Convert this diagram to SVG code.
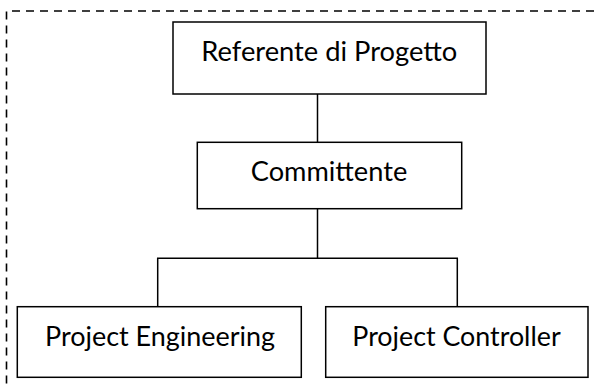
<svg xmlns="http://www.w3.org/2000/svg" width="594" height="385" viewBox="0 0 594 385">
  <style>
    .box { fill: #ffffff; stroke: #000000; stroke-width: 1.5; }
    .label { font-family: Lato, "Open Sans", "Liberation Sans", sans-serif; font-size: 26px; fill: #000000; text-anchor: middle; }
    .link { fill: none; stroke: #000000; stroke-width: 1.5; }
    .frame { fill: none; stroke: #000000; stroke-width: 1.6; stroke-dasharray: 8 6; }
  </style>
  <rect width="594" height="385" fill="#ffffff"/>

  <!-- dashed outer frame (top and left edges) -->
  <path class="frame" d="M594,11 H6.5 V385"/>

  <g id="connectors">
    <line class="link" x1="317.5" y1="94" x2="317.5" y2="142.3"/>
    <line class="link" x1="317.5" y1="208.7" x2="317.5" y2="258.3"/>
    <path class="link" d="M157.7,306.7 V258.3 H457.3 V306.7"/>
  </g>

  <g id="referente">
    <rect class="box" x="173" y="22" width="313" height="72"/>
    <text class="label" x="329.3" y="61" textLength="256" lengthAdjust="spacingAndGlyphs">Referente di Progetto</text>
  </g>

  <g id="committente">
    <rect class="box" x="197.3" y="142.3" width="264.4" height="66.4"/>
    <text class="label" x="329" y="180.7" textLength="156.5" lengthAdjust="spacingAndGlyphs">Committente</text>
  </g>

  <g id="project-engineering">
    <rect class="box" x="17.3" y="306.7" width="284" height="70.6"/>
    <text class="label" x="160" y="346" textLength="230" lengthAdjust="spacingAndGlyphs">Project Engineering</text>
  </g>

  <g id="project-controller">
    <rect class="box" x="325.7" y="306.7" width="262.3" height="70.6"/>
    <text class="label" x="456.5" y="346" textLength="208.4" lengthAdjust="spacingAndGlyphs">Project Controller</text>
  </g>
</svg>
